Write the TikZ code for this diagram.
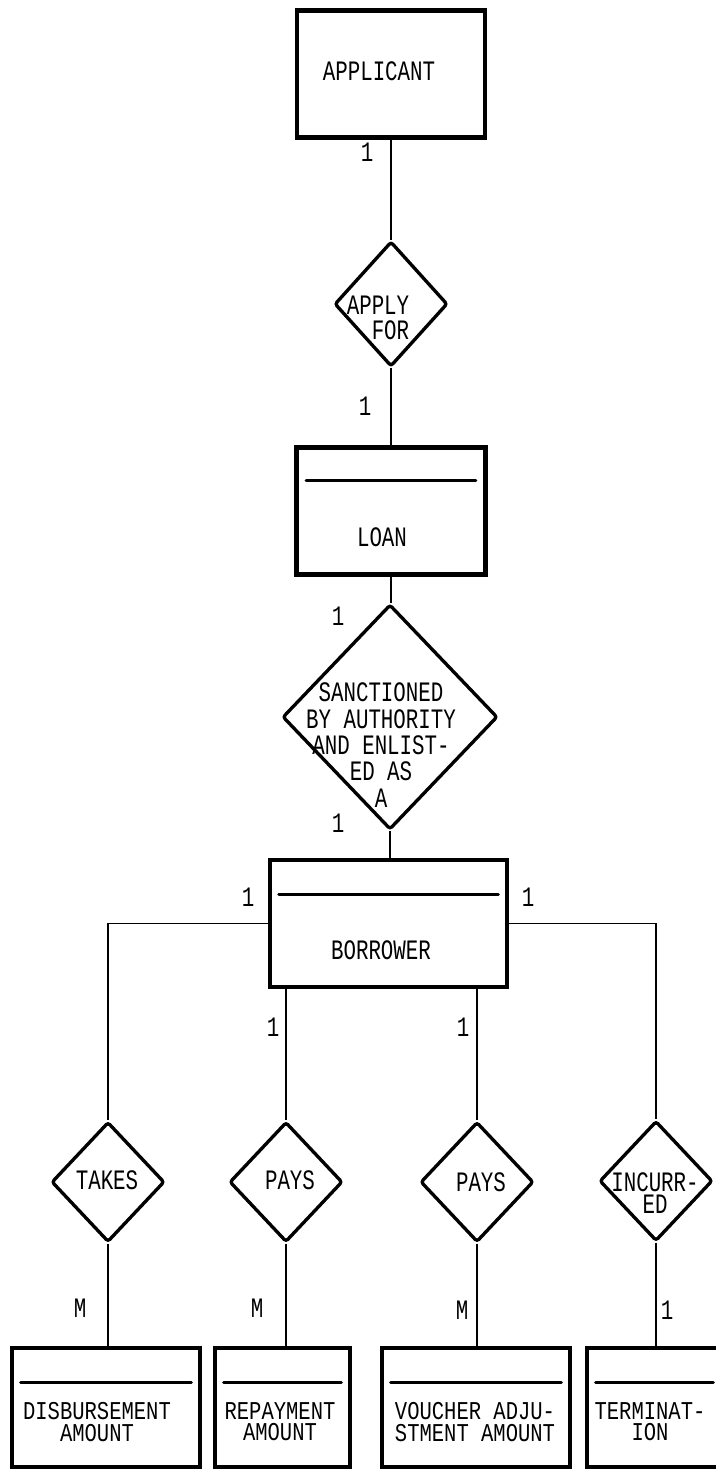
\documentclass[tikz,border=0pt]{standalone}
\usepackage{fontspec}
\usepackage{tikz}
\usetikzlibrary{shapes.geometric, calc}
\newfontfamily\dotfont[FakeStretch=0.74]{Liberation Mono}
\newfontfamily\dotfontb[FakeStretch=0.8]{Liberation Mono}
\tikzset{
  entity/.style={rectangle, draw=black, line width=2.6pt, inner sep=0pt},
  relation/.style={diamond, draw=black, line width=1.9pt, inner sep=0pt,
    rounded corners=1.5pt},
  etext/.style={font=\dotfont\fontsize{16}{14.5}\selectfont, align=center,
    inner sep=0pt},
  btext/.style={font=\dotfontb\fontsize{14.6}{12}\selectfont, align=center,
    inner sep=0pt},
  card/.style={font=\dotfont\fontsize{16}{14.5}\selectfont, inner sep=0pt},
  link/.style={line width=0.8pt, color=black},
  bar/.style={line width=1.7pt, line cap=round}
}

\begin{document}
\begin{tikzpicture}[x=0.02cm, y=-0.02cm]
  \clip (0,0) rectangle (716,1472);
  \fill[white] (0,0) rectangle (716,1472);

  % Applicant and loan
  \node[entity, minimum width=3.76cm, minimum height=2.54cm] (applicant) at (391,74) {};
  \node[etext] (applicant-t) at (379,71) {APPLICANT};
  \node[relation, minimum width=2.26cm, minimum height=2.5cm] (applyfor) at (391,304) {};
  \node[etext, align=right] (applyfor-t) at (378,318) {APPLY\\FOR};
  \node[entity, minimum width=3.78cm, minimum height=2.54cm] (loan) at (391,511) {};
  \node[etext] (loan-t) at (382,537) {LOAN};
  \draw[bar] ($(loan.north west)+(12,35)$) -- ($(loan.north east)+(-12,35)$);

  % Sanction and borrower
  \node[relation, minimum width=4.3cm, minimum height=4.5cm] (sanction) at (390,717) {};
  \node[etext, font=\dotfont\fontsize{16}{15}\selectfont] (sanction-t) at (381,745)
    {SANCTIONED\\BY AUTHORITY\\AND ENLIST-\\ED AS\\A};
  \node[entity, minimum width=4.74cm, minimum height=2.54cm] (borrower) at (388.5,923.5) {};
  \node[etext] (borrower-t) at (381,950) {BORROWER};
  \draw[bar] ($(borrower.north west)+(11,37)$) -- ($(borrower.north east)+(-11,37)$);

  % Relationships of the borrower
  \node[relation, minimum width=2.26cm, minimum height=2.4cm] (takes) at (108,1182) {};
  \node[etext] (takes-t) at (107,1180) {TAKES};
  \node[relation, minimum width=2.26cm, minimum height=2.4cm] (pays1) at (286,1182) {};
  \node[etext] (pays1-t) at (290,1180) {PAYS};
  \node[relation, minimum width=2.26cm, minimum height=2.4cm] (pays2) at (477,1182) {};
  \node[etext] (pays2-t) at (481,1182) {PAYS};
  \node[relation, minimum width=2.26cm, minimum height=2.4cm] (incurred) at (656,1181) {};
  \node[etext, font=\dotfont\fontsize{16}{13}\selectfont] (incurred-t) at (655,1193) {INCURR-\\ED};

  % Amounts and termination
  \node[entity, minimum width=3.76cm, minimum height=2.38cm] (disb) at (106,1407.5) {};
  \node[btext] (disb-t) at (97,1422) {DISBURSEMENT\\AMOUNT};
  \node[entity, minimum width=2.7cm, minimum height=2.38cm] (repay) at (282.5,1407.5) {};
  \node[btext] (repay-t) at (280,1422) {REPAYMENT\\AMOUNT};
  \node[entity, minimum width=3.76cm, minimum height=2.38cm] (voucher) at (476,1407.5) {};
  \node[btext] (voucher-t) at (475,1422) {VOUCHER ADJU-\\STMENT AMOUNT};
  \node[entity, minimum width=2.7cm, minimum height=2.38cm] (termin) at (654.5,1407.5) {};
  \node[btext] (termin-t) at (650,1422) {TERMINAT-\\ION};
  \foreach \b in {disb, repay, voucher, termin}
    \draw[bar] ($(\b.north west)+(11,37)$) -- ($(\b.north east)+(-11,37)$);

  % Connectors
  \draw[link] (applicant.south) -- (applicant.south |- applyfor.north);
  \draw[link] (applyfor.south) -- (applyfor.south |- loan.north);
  \draw[link] (loan.south) -- (loan.south |- sanction.north);
  \draw[link] (sanction.south) -- (sanction.south |- borrower.north);
  \draw[link] (borrower.west) -| (takes.north);
  \draw[link] (borrower.east) -| (incurred.north);
  \draw[link] (borrower.south -| pays1.north) -- (pays1.north);
  \draw[link] (borrower.south -| pays2.north) -- (pays2.north);
  \draw[link] (takes.south) -- (takes.south |- disb.north);
  \draw[link] (pays1.south) -- (pays1.south |- repay.north);
  \draw[link] (pays2.south) -- (pays2.south |- voucher.north);
  \draw[link] (incurred.south) -- (incurred.south |- termin.north);

  % Cardinalities
  \node[card] (c-app) at (367,152) {1};
  \node[card] (c-loan1) at (365,406) {1};
  \node[card] (c-loan2) at (338,616) {1};
  \node[card] (c-bor1) at (338,823) {1};
  \node[card] (c-bor2) at (248,897) {1};
  \node[card] (c-bor3) at (528,897) {1};
  \node[card] (c-bor4) at (273,1027) {1};
  \node[card] (c-bor5) at (463,1027) {1};
  \node[card] (c-disb) at (80,1308) {M};
  \node[card] (c-repay) at (257,1308) {M};
  \node[card] (c-vouch) at (462,1310) {M};
  \node[card] (c-term) at (667,1310) {1};
\end{tikzpicture}
\end{document}
